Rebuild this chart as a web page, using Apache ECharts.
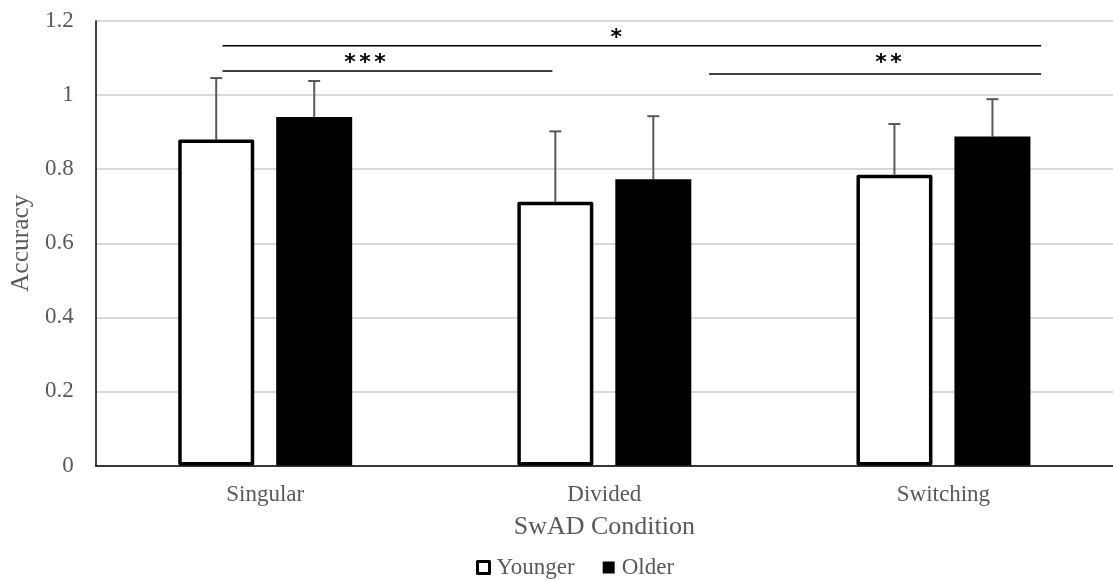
<!DOCTYPE html>
<html>
<head>
<meta charset="utf-8">
<script src="https://cdn.jsdelivr.net/npm/echarts@6/dist/echarts.min.js"></script>
<style>html,body{margin:0;padding:0;background:#fff}#c{width:1113px;height:580px}</style>
</head>
<body>
<div id="c"></div>
<script>
const categories = ['Singular', 'Divided', 'Switching'];
const youngerMean = [0.88, 0.712, 0.785];
const youngerErrTop = [1.046, 0.902, 0.922];
const olderMean = [0.941, 0.773, 0.888];
const olderErrTop = [1.038, 0.943, 0.989];
// significance brackets (x in category units, y in accuracy units)
const sigStart = [0.374, 0.374, 1.809];
const sigEnd = [2.788, 1.347, 2.788];
const sigLineY = [1.133, 1.065, 1.057];
const sigLabelX = [1.535, 0.794, 2.338];
const sigLabelY = [1.154, 1.087, 1.085];
const sigLabel = ['*', '***', '**'];
const yTicks = { min: 0, max: 1.2, interval: 0.2 };

const FONT = '"Liberation Serif", "Times New Roman", serif';
const GRAY = '#595959';
const BAR_W = 76, GAP = 22;
const OFFSET = (BAR_W + GAP) / 2;
const STAR_PITCH = 15;

function errSeries(name, means, tops, dir) {
  return {
    type: 'custom',
    name: name + ' err',
    xAxisIndex: 0, yAxisIndex: 0,
    z: 1,
    data: means.map((m, i) => [i, m, tops[i]]),
    renderItem: function (params, api) {
      const i = api.value(0);
      const base = api.coord([i, api.value(1)]);
      const top = api.coord([i, api.value(2)]);
      const x = base[0] + dir * OFFSET;
      const cap = 6;
      const st = { stroke: GRAY, lineWidth: 2 };
      return {
        type: 'group',
        children: [
          { type: 'line', shape: { x1: x, y1: base[1], x2: x, y2: top[1] }, style: st },
          { type: 'line', shape: { x1: x - cap, y1: top[1], x2: x + cap, y2: top[1] }, style: st }
        ]
      };
    }
  };
}

const chart = echarts.init(document.getElementById('c'), null, { renderer: 'canvas' });
chart.setOption({
  animation: false,
  backgroundColor: '#fff',
  grid: { left: 95, top: 21, width: 1020, height: 444.5, containLabel: false },
  xAxis: [{
    type: 'category',
    data: categories,
    axisLine: { lineStyle: { color: '#000', width: 1.5 } },
    axisTick: { show: false },
    axisLabel: { color: GRAY, fontFamily: FONT, fontSize: 23, margin: 18 },
    name: 'SwAD Condition',
    nameLocation: 'middle',
    nameGap: 49,
    nameTextStyle: { color: GRAY, fontFamily: FONT, fontSize: 26 }
  }, {
    type: 'value', min: 0, max: 3, show: false
  }],
  yAxis: {
    type: 'value',
    min: yTicks.min, max: yTicks.max, interval: yTicks.interval,
    axisLine: { show: true, lineStyle: { color: '#000', width: 1.5 } },
    axisTick: { show: false },
    splitLine: { lineStyle: { color: '#d9d9d9', width: 2 } },
    axisLabel: { color: GRAY, fontFamily: FONT, fontSize: 23, margin: 22 },
    name: 'Accuracy',
    nameLocation: 'middle',
    nameGap: 59,
    nameRotate: 90,
    nameTextStyle: { color: GRAY, fontFamily: FONT, fontSize: 25.5 }
  },
  legend: {
    data: [
      { name: 'Younger', itemStyle: { color: '#fff', borderColor: '#000', borderWidth: 3 } },
      { name: 'Older', itemStyle: { color: '#000' } }
    ],
    icon: 'rect',
    itemWidth: 12, itemHeight: 12,
    itemGap: 28,
    top: 556,
    left: 476,
    padding: 0,
    textStyle: { color: GRAY, fontFamily: FONT, fontSize: 23, padding: [0, 0, 0, 2] }
  },
  series: [
    {
      name: 'Younger', type: 'bar', data: youngerMean,
      barWidth: BAR_W, barGap: (GAP / BAR_W * 100).toFixed(1) + '%',
      itemStyle: { color: '#fff', borderColor: '#000', borderWidth: 3.5, borderJoin: 'round' },
      z: 2
    },
    {
      name: 'Older', type: 'bar', data: olderMean,
      barWidth: BAR_W,
      itemStyle: { color: '#000' },
      z: 2
    },
    errSeries('Younger', youngerMean, youngerErrTop, -1),
    errSeries('Older', olderMean, olderErrTop, 1),
    {
      type: 'custom',
      name: 'sig',
      xAxisIndex: 1, yAxisIndex: 0,
      z: 3,
      data: sigLabel.map((l, i) => [sigStart[i], sigEnd[i], sigLineY[i], sigLabelX[i], sigLabelY[i], i]),
      renderItem: function (params, api) {
        const a = api.coord([api.value(0), api.value(2)]);
        const b = api.coord([api.value(1), api.value(2)]);
        const t = api.coord([api.value(3), api.value(4)]);
        const label = sigLabel[api.value(5)];
        const n = label.length;
        const children = [
          { type: 'line', shape: { x1: a[0], y1: a[1], x2: b[0], y2: b[1] }, style: { stroke: '#000', lineWidth: 1.5 } }
        ];
        for (let k = 0; k < n; k++) {
          children.push({
            type: 'text',
            x: t[0] + (k - (n - 1) / 2) * STAR_PITCH,
            y: t[1],
            style: { text: label[k], fill: '#000', font: 'bold 22px "DejaVu Sans", sans-serif', align: 'center', verticalAlign: 'middle' }
          });
        }
        return { type: 'group', children: children };
      }
    }
  ]
});
</script>
</body>
</html>
